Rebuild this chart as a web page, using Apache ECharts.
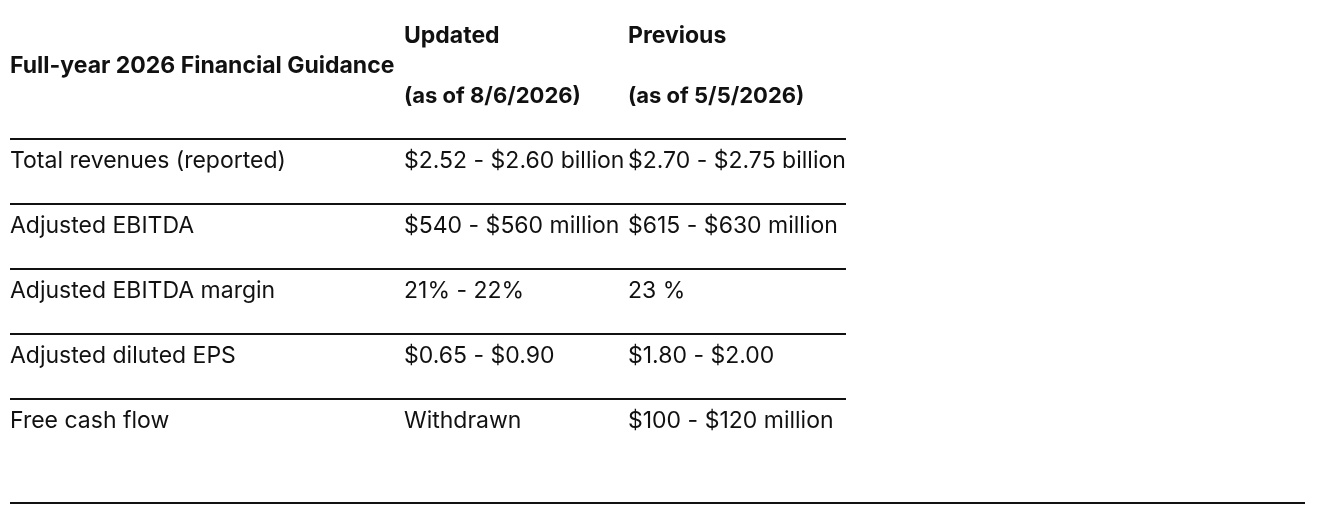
<!DOCTYPE html>
<html lang="en">
  <head>
    <meta charset="UTF-8" />
    <title>Full-year 2026 Financial Guidance</title>
    <style>
      html, body { margin: 0; padding: 0; background: #fff; }
      #main { width: 1336px; height: 514px; }
    </style>
  </head>
  <body>
    <div id="main"></div>
    <script src="https://cdn.jsdelivr.net/npm/echarts@6/dist/echarts.min.js"></script>
    <script>
      // table content
      const tableTitle = "Full-year 2026 Financial Guidance";
      const columnHeads = ["Updated", "Previous"];
      const columnDates = ["(as of 8/6/2026)", "(as of 5/5/2026)"];
      const metrics = [
        "Total revenues (reported)",
        "Adjusted EBITDA",
        "Adjusted EBITDA margin",
        "Adjusted diluted EPS",
        "Free cash flow",
      ];
      const updated = [
        "$2.52 - $2.60 billion",
        "$540 - $560 million",
        "21% - 22%",
        "$0.65 - $0.90",
        "Withdrawn",
      ];
      const previous = [
        "$2.70 - $2.75 billion",
        "$615 - $630 million",
        "23 %",
        "$1.80 - $2.00",
        "$100 - $120 million",
      ];

      // layout (px)
      const tableWidth = 836;
      const colStart = [0, 394, 618];
      const font = "Inter, 'Noto Sans', sans-serif";
      const bodyFont = "23px " + font;
      const ink = "#111";

      var myChart = echarts.init(document.getElementById("main"), null, {
        renderer: "canvas",
      });

      // header texts, vertically centred on their lines
      function headText(text, x, y, size) {
        return {
          type: "text",
          x: x,
          y: y,
          style: {
            text: text,
            font: "bold " + size + "px " + font,
            fill: ink,
            verticalAlign: "middle",
          },
        };
      }

      option = {
        backgroundColor: "#fff",
        animation: false,
        grid: { left: 10, top: 139, width: tableWidth, height: 65 * metrics.length },
        xAxis: { type: "value", min: 0, max: tableWidth, show: false },
        yAxis: { type: "category", data: metrics, inverse: true, show: false },
        graphic: [
          headText(tableTitle, 10, 66, 23),
          headText(columnHeads[0], 10 + colStart[1], 36, 23),
          headText(columnDates[0], 10 + colStart[1], 96, 22),
          headText(columnHeads[1], 10 + colStart[2], 36, 23),
          headText(columnDates[1], 10 + colStart[2], 96, 22),
          {
            type: "line",
            shape: { x1: 10, y1: 503, x2: 1305, y2: 503 },
            style: { stroke: ink, lineWidth: 2 },
          },
        ],
        series: [
          {
            type: "custom",
            data: metrics.map((m, i) => [0, i]),
            renderItem: function (params, api) {
              const row = api.value(1);
              const center = api.coord([0, row]);
              const rowH = api.size([0, 1])[1];
              const top = center[1] - rowH / 2;
              const x0 = center[0];
              const x1 = api.coord([tableWidth, row])[0];
              const cells = [metrics[row], updated[row], previous[row]];
              const children = [
                {
                  type: "line",
                  shape: { x1: x0, y1: top, x2: x1, y2: top },
                  style: { stroke: ink, lineWidth: 2 },
                },
              ];
              cells.forEach((t, c) => {
                children.push({
                  type: "text",
                  x: api.coord([colStart[c], row])[0],
                  y: top + 22,
                  style: {
                    text: t,
                    font: bodyFont,
                    fill: ink,
                    verticalAlign: "middle",
                  },
                });
              });
              return { type: "group", children: children };
            },
          },
        ],
      };

      myChart.setOption(option);
    </script>
  </body>
</html>
